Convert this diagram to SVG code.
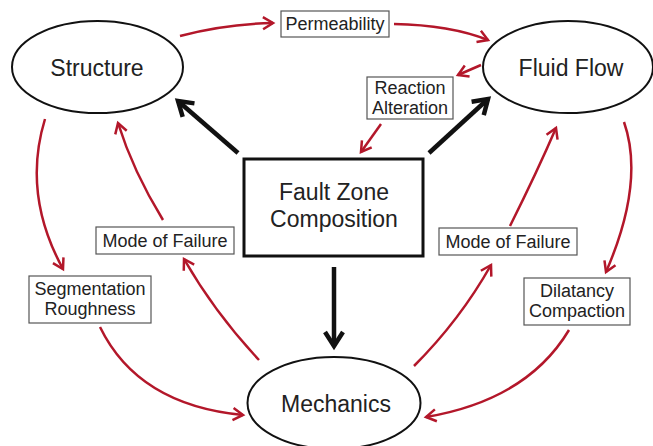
<svg xmlns="http://www.w3.org/2000/svg" width="653" height="446" viewBox="0 0 653 446">
<style>
text{font-family:"Liberation Sans",Arial,sans-serif;fill:#222;text-anchor:middle}
.big{font-size:23px}
.lbl{font-size:18px}
.ell{fill:#fff;stroke:#111;stroke-width:2}
.box{fill:#fff;stroke:#555;stroke-width:1.2}
.main{fill:#fff;stroke:#111;stroke-width:3}
.red{fill:none;stroke:#b3172a;stroke-width:2.5;marker-end:url(#rh)}
.blk{fill:none;stroke:#111;stroke-width:4.5;marker-end:url(#bh)}
</style>
<defs>
<marker id="rh" markerUnits="userSpaceOnUse" markerWidth="14" markerHeight="14" viewBox="0 0 14 14" refX="11" refY="7" orient="auto" overflow="visible">
<path d="M1,1 L11,7 L1,13" fill="none" stroke="#b3172a" stroke-width="2.5"/>
</marker>
<marker id="bh" markerUnits="userSpaceOnUse" markerWidth="22" markerHeight="22" viewBox="0 0 22 22" refX="17" refY="11" orient="auto" overflow="visible">
<path d="M3,2 L17,11 L3,20" fill="none" stroke="#111" stroke-width="4.5"/>
</marker>
</defs>
<rect width="653" height="446" fill="#fff"/>
<g id="connectors">
<path class="blk" d="M238,153 L178,101"/>
<path class="blk" d="M429,153 L488,99"/>
<path class="blk" d="M334,267 L334,346"/>
<path class="red" d="M180,36 Q225,24 273,23"/>
<path class="red" d="M394,24 Q450,25 488,40"/>
<path class="red" d="M481,65 L458,75"/>
<path class="red" d="M381,124 L361,152"/>
<path class="red" d="M45,119 Q22,194 63,269"/>
<path class="red" d="M100,327 Q138,405 243,415"/>
<path class="red" d="M259,360 Q215,313 184,259"/>
<path class="red" d="M163,220 Q133,171 118,123"/>
<path class="red" d="M624,122 Q645,182 606,272"/>
<path class="red" d="M569,330 Q527,400 426,417"/>
<path class="red" d="M414,366 Q460,320 491,265"/>
<path class="red" d="M510,226 Q537,172 556,128"/>
</g>
<g id="structure">
<ellipse class="ell" cx="97.5" cy="67" rx="85.5" ry="46"/>
<text class="big" x="97" y="76">Structure</text>
</g>
<g id="fluid-flow">
<ellipse class="ell" cx="568" cy="67" rx="85" ry="46"/>
<text class="big" x="571" y="76">Fluid Flow</text>
</g>
<g id="mechanics">
<ellipse class="ell" cx="334" cy="403" rx="86.5" ry="46"/>
<text class="big" x="336" y="412">Mechanics</text>
</g>
<g id="fault-zone-composition">
<rect class="main" x="244" y="159" width="179" height="97"/>
<text class="big" x="334" y="200">Fault Zone</text>
<text class="big" x="334" y="227">Composition</text>
</g>
<g id="permeability">
<rect class="box" x="281" y="11" width="108" height="26"/>
<text class="lbl" x="335" y="30">Permeability</text>
</g>
<g id="reaction-alteration">
<rect class="box" x="367" y="77" width="86" height="42"/>
<text class="lbl" x="410" y="94">Reaction</text>
<text class="lbl" x="410" y="114">Alteration</text>
</g>
<g id="mode-of-failure-left">
<rect class="box" x="96" y="227" width="138" height="27"/>
<text class="lbl" x="165" y="247">Mode of Failure</text>
</g>
<g id="mode-of-failure-right">
<rect class="box" x="439" y="228" width="138" height="27"/>
<text class="lbl" x="508" y="248">Mode of Failure</text>
</g>
<g id="segmentation-roughness">
<rect class="box" x="29" y="276" width="122" height="47"/>
<text class="lbl" x="90" y="295">Segmentation</text>
<text class="lbl" x="90" y="315">Roughness</text>
</g>
<g id="dilatancy-compaction">
<rect class="box" x="524" y="278" width="106" height="47"/>
<text class="lbl" x="577" y="297">Dilatancy</text>
<text class="lbl" x="577" y="317">Compaction</text>
</g>
</svg>
